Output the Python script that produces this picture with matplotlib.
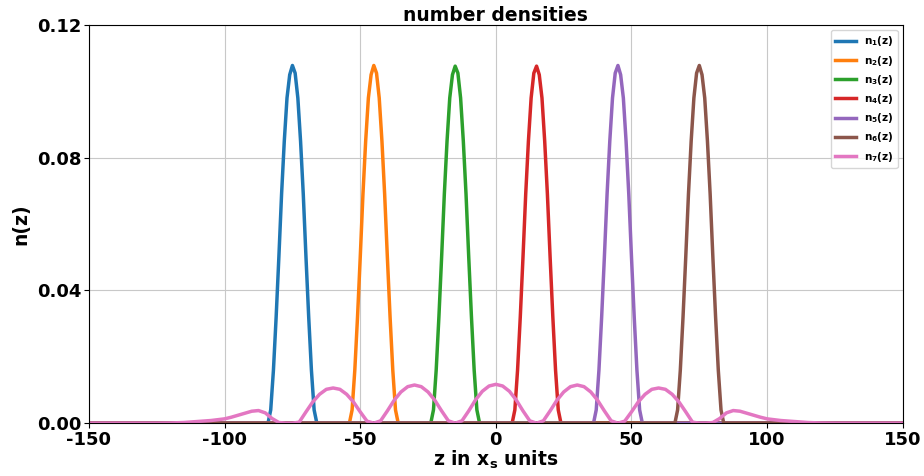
import matplotlib
matplotlib.use('Agg')
import matplotlib.pyplot as plt

plt.rcParams['font.family'] = ['DejaVu Sans']
plt.rcParams['font.weight'] = 'bold'
plt.rcParams['axes.unicode_minus'] = False
plt.rcParams['mathtext.fontset'] = 'dejavusans'
plt.rcParams['mathtext.default'] = 'bf'

centres = [-75, -45, -15, 15, 45, 75]
dz = [-9, -8, -7, -6, -5, -4, -3, -2, -1, 0, 1, 2, 3, 4, 5, 6, 7, 8, 9]
n1 = [0, 0.004, 0.016, 0.032, 0.050, 0.069, 0.085, 0.098, 0.105, 0.1078, 0.1055, 0.098, 0.085, 0.069, 0.050, 0.032, 0.016, 0.004, 0]
n2 = [0, 0.004, 0.016, 0.032, 0.050, 0.069, 0.085, 0.098, 0.105, 0.1078, 0.1055, 0.098, 0.085, 0.069, 0.050, 0.032, 0.016, 0.004, 0]
n3 = [0, 0.004, 0.016, 0.032, 0.050, 0.069, 0.085, 0.098, 0.105, 0.1076, 0.1055, 0.098, 0.085, 0.069, 0.050, 0.032, 0.016, 0.004, 0]
n4 = [0, 0.004, 0.016, 0.032, 0.050, 0.069, 0.085, 0.098, 0.1055, 0.1076, 0.105, 0.098, 0.085, 0.069, 0.050, 0.032, 0.016, 0.004, 0]
n5 = [0, 0.004, 0.016, 0.032, 0.050, 0.069, 0.085, 0.098, 0.1055, 0.1078, 0.105, 0.098, 0.085, 0.069, 0.050, 0.032, 0.016, 0.004, 0]
n6 = [0, 0.004, 0.016, 0.032, 0.050, 0.069, 0.085, 0.098, 0.1055, 0.1078, 0.105, 0.098, 0.085, 0.069, 0.050, 0.032, 0.016, 0.004, 0]

# wide species n7
z7 = [-150, -125, -120, -115, -110, -105, -100, -97.5, -95, -92.5, -90, -87.5, -85, -82.5, -80, -77.5,
      -75, -72.5, -70, -67.5, -65, -62.5, -60, -57.5, -55, -52.5, -50, -47.5, -45, -42.5, -40, -37.5,
      -35, -32.5, -30, -27.5, -25, -22.5, -20, -17.5, -15, -12.5, -10, -7.5, -5, -2.5, 0,
      2.5, 5, 7.5, 10, 12.5, 15, 17.5, 20, 22.5, 25, 27.5, 30, 32.5, 35, 37.5, 40, 42.5, 45,
      47.5, 50, 52.5, 55, 57.5, 60, 62.5, 65, 67.5, 70, 72.5, 75, 77.5, 80, 82.5, 85, 87.5,
      90, 92.5, 95, 97.5, 100, 105, 110, 115, 120, 125, 150]
n7 = [0, 0, 0.00005, 0.0002, 0.0005, 0.0008, 0.0013, 0.0018, 0.0024, 0.0030, 0.0036, 0.0038, 0.0031, 0.0014, 0.0002, 0,
      0, 0.0003, 0.0034, 0.0064, 0.0087, 0.0102, 0.0106, 0.0102, 0.0087, 0.0064, 0.0034, 0.0006, 0, 0.0007, 0.0037, 0.0069,
      0.0094, 0.0110, 0.0115, 0.0110, 0.0094, 0.0069, 0.0037, 0.0007, 0, 0.0007, 0.0037, 0.0070, 0.0096, 0.0112, 0.0117,
      0.0112, 0.0096, 0.0070, 0.0037, 0.0007, 0, 0.0007, 0.0037, 0.0069, 0.0094, 0.0110, 0.0115, 0.0110, 0.0094, 0.0069, 0.0037, 0.0007, 0,
      0.0006, 0.0034, 0.0064, 0.0087, 0.0102, 0.0106, 0.0102, 0.0087, 0.0064, 0.0034, 0.0003, 0, 0, 0.0002, 0.0014, 0.0031, 0.0038,
      0.0036, 0.0030, 0.0024, 0.0018, 0.0013, 0.0008, 0.0005, 0.0002, 0.00005, 0, 0]

labels = [r'$n_1(z)$', r'$n_2(z)$', r'$n_3(z)$', r'$n_4(z)$', r'$n_5(z)$', r'$n_6(z)$', r'$n_7(z)$']
xticks = [-150, -100, -50, 0, 50, 100, 150]
yticks = [0.00, 0.04, 0.08, 0.12]

fig = plt.figure(figsize=(9.24, 4.76), dpi=100)
ax = fig.add_axes([0.0963, 0.111, 0.8807, 0.8365])

for c, n, lab in zip(centres, [n1, n2, n3, n4, n5, n6], labels[:6]):
    z = [-150] + [c + d for d in dz] + [150]
    ax.plot(z, [0] + n + [0], lw=2.5, label=lab)
ax.plot(z7, n7, lw=2.5, label=labels[6])

ax.set_xlim(-150, 150)
ax.set_ylim(0, 0.12)
ax.set_xticks(xticks)
ax.set_yticks(yticks)
ax.set_yticklabels(['%.2f' % y for y in yticks])
ax.tick_params(labelsize=13, pad=2)
ax.grid(True, color='#c8c8c8', lw=0.8)
ax.set_title('number densities', fontsize=13.5, fontweight='bold', pad=3)
ax.set_xlabel(r'z in $x_s$ units', fontsize=13.5, fontweight='bold', labelpad=0)
ax.set_ylabel('n(z)', fontsize=13.5, fontweight='bold', labelpad=5)
ax.legend(loc='upper right', fontsize=7.5)

plt.savefig('out.png', dpi=100)
